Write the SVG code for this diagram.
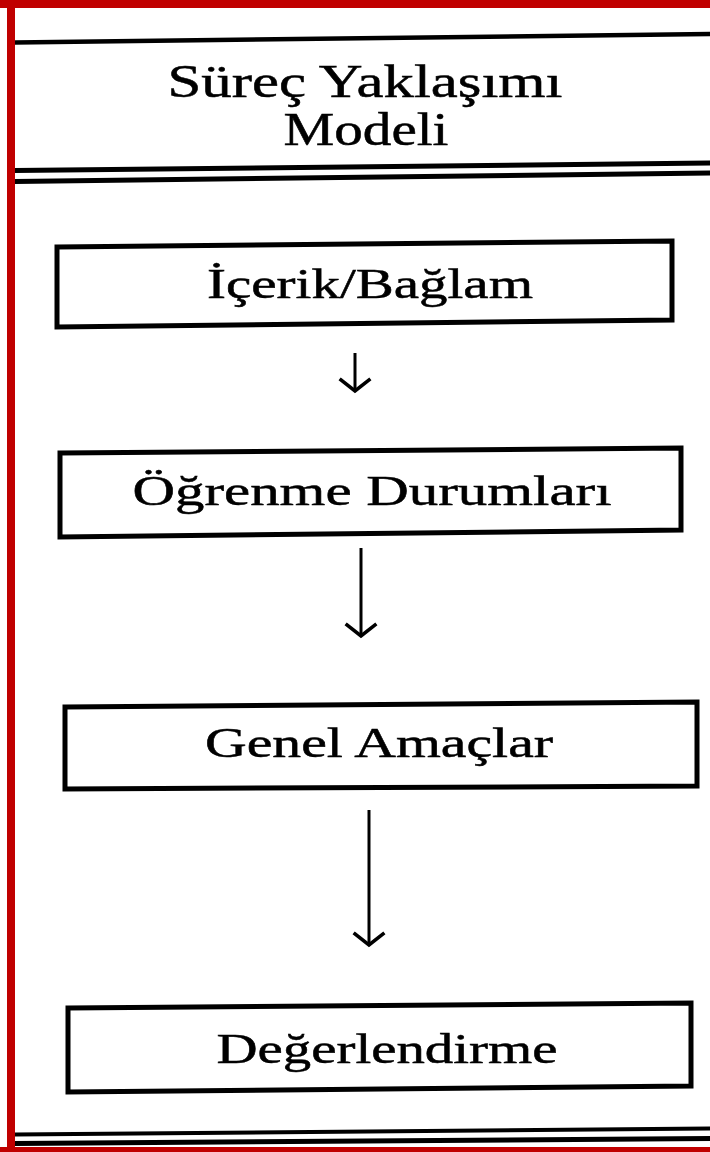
<svg xmlns="http://www.w3.org/2000/svg" width="710" height="1152" viewBox="0 0 710 1152">
  <style>
    .rule { stroke: #000; fill: none; }
    .box { fill: #fff; stroke: #000; stroke-width: 5; stroke-linejoin: miter; }
    .label { font-family: "Liberation Serif", "Times New Roman", serif; fill: #000; stroke: #000; stroke-width: 0.5; text-anchor: middle; }
    .title { font-size: 46px; }
    .node-text { font-size: 42px; }
    .flow { stroke: #000; stroke-width: 3; fill: none; }
    .head { stroke: #000; stroke-width: 3.5; fill: none; stroke-linecap: square; }
  </style>

  <rect width="710" height="1152" fill="#fff"/>

  <!-- red frame -->
  <g id="frame" fill="#c00000">
    <rect x="0" y="0" width="710" height="8"/>
    <rect x="7" y="0" width="8" height="1152"/>
    <rect x="0" y="1147" width="710" height="5"/>
  </g>

  <!-- header rules and title -->
  <g id="header">
    <line class="rule" x1="15" y1="42.5" x2="710" y2="34" stroke-width="4.5"/>
    <line class="rule" x1="15" y1="170.5" x2="710" y2="163" stroke-width="5"/>
    <line class="rule" x1="15" y1="181.5" x2="710" y2="173" stroke-width="5"/>
    <text class="label title" x="365" y="97" textLength="395" lengthAdjust="spacingAndGlyphs">Süreç Yaklaşımı</text>
    <text class="label title" x="366" y="145" textLength="165" lengthAdjust="spacingAndGlyphs">Modeli</text>
  </g>

  <!-- nodes -->
  <g id="node-icerik">
    <polygon class="box" points="57,247 672,241 672,320 57,327"/>
    <text class="label node-text" x="370" y="298" textLength="326" lengthAdjust="spacingAndGlyphs">İçerik/Bağlam</text>
  </g>
  <g id="node-ogrenme">
    <polygon class="box" points="60,453 681,448 681,530 60,537"/>
    <text class="label node-text" x="372" y="505" textLength="479" lengthAdjust="spacingAndGlyphs">Öğrenme Durumları</text>
  </g>
  <g id="node-amaclar">
    <polygon class="box" points="65,707 697,702 697,786 65,789"/>
    <text class="label node-text" x="379" y="757" textLength="348" lengthAdjust="spacingAndGlyphs">Genel Amaçlar</text>
  </g>
  <g id="node-degerlendirme">
    <polygon class="box" points="68,1008 691,1003 691,1086 68,1092"/>
    <text class="label node-text" x="387" y="1063" textLength="341" lengthAdjust="spacingAndGlyphs">Değerlendirme</text>
  </g>

  <!-- connectors -->
  <g id="connectors">
    <line class="flow" x1="355" y1="353" x2="355" y2="391"/>
    <polyline class="head" points="341,380 355,391 369,380"/>

    <line class="flow" x1="361" y1="548" x2="361" y2="636"/>
    <polyline class="head" points="347,625 361,636 375,625"/>

    <line class="flow" x1="369" y1="810" x2="369" y2="945"/>
    <polyline class="head" points="355,934 369,945 383,934"/>
  </g>

  <!-- footer rules -->
  <g id="footer">
    <line class="rule" x1="15" y1="1134.5" x2="710" y2="1128.5" stroke-width="4"/>
    <line class="rule" x1="15" y1="1143.5" x2="710" y2="1138.5" stroke-width="5"/>
  </g>
</svg>
